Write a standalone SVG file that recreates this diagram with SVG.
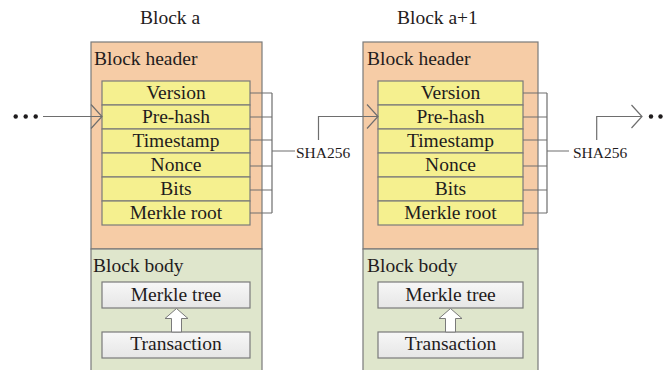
<svg xmlns="http://www.w3.org/2000/svg" width="665" height="370" viewBox="0 0 665 370" font-family="'Liberation Serif', 'Times New Roman', 'DejaVu Serif', serif">
  <style>
    .title, .lbl, .fld, .hash { font-family: "Liberation Serif", "Times New Roman", "DejaVu Serif", serif; fill: #1f1c1d; }
    .title { font-size: 19.5px; }
    .lbl { font-size: 19.5px; }
    .fld { font-size: 19.5px; text-anchor: middle; }
    .hash { font-size: 15.5px; }
    .hdr { fill: #f6cca6; stroke: #7a7a7a; stroke-width: 1.2; }
    .body { fill: #dfe6cc; stroke: #7a7a7a; stroke-width: 1.2; }
    .field { fill: #f5f08f; stroke: #7a7a7a; stroke-width: 1.2; }
    .gbox { fill: url(#gray); stroke: #7a7a7a; stroke-width: 1.2; }
    .wire { fill: none; stroke: #6e6e6e; stroke-width: 1.2; }
    .dot { fill: #1f1c1d; }
  </style>
  <defs>
    <linearGradient id="gray" x1="0" y1="0" x2="0" y2="1">
      <stop offset="0" stop-color="#f7f7f7"/>
      <stop offset="1" stop-color="#e6e6e6"/>
    </linearGradient>
  </defs>

  <!-- Block a -->
  <g id="block-a">
    <text class="title" x="140" y="24">Block a</text>
    <rect class="hdr" x="91" y="42" width="171" height="207"/>
    <rect class="body" x="91" y="249" width="171" height="125"/>
    <text class="lbl" x="94" y="65">Block header</text>
    <rect class="field" x="102" y="81" width="148" height="24"/>
    <rect class="field" x="102" y="105" width="148" height="24"/>
    <rect class="field" x="102" y="129" width="148" height="24"/>
    <rect class="field" x="102" y="153" width="148" height="24"/>
    <rect class="field" x="102" y="177" width="148" height="24"/>
    <rect class="field" x="102" y="201" width="148" height="24"/>
    <text class="fld" x="176" y="99">Version</text>
    <text class="fld" x="176" y="123">Pre-hash</text>
    <text class="fld" x="176" y="147">Timestamp</text>
    <text class="fld" x="176" y="171">Nonce</text>
    <text class="fld" x="176" y="195">Bits</text>
    <text class="fld" x="176" y="219">Merkle root</text>
    <text class="lbl" x="93" y="272">Block body</text>
    <rect class="gbox" x="102" y="282" width="148" height="26"/>
    <text class="fld" x="176" y="301">Merkle tree</text>
    <rect class="gbox" x="102" y="332" width="148" height="26"/>
    <text class="fld" x="176" y="350">Transaction</text>
    <path d="M176.5,308.5 L188,318.5 L181.5,318.5 L181.5,332 L171.5,332 L171.5,318.5 L165,318.5 Z" fill="#ffffff" stroke="#7a7a7a" stroke-width="1"/>
  </g>

  <!-- Block a+1 -->
  <g id="block-a1">
    <text class="title" x="397" y="24">Block a+1</text>
    <rect class="hdr" x="363" y="42" width="175" height="207"/>
    <rect class="body" x="363" y="249" width="175" height="125"/>
    <text class="lbl" x="367" y="65">Block header</text>
    <rect class="field" x="378" y="81" width="145" height="24"/>
    <rect class="field" x="378" y="105" width="145" height="24"/>
    <rect class="field" x="378" y="129" width="145" height="24"/>
    <rect class="field" x="378" y="153" width="145" height="24"/>
    <rect class="field" x="378" y="177" width="145" height="24"/>
    <rect class="field" x="378" y="201" width="145" height="24"/>
    <text class="fld" x="450.5" y="99">Version</text>
    <text class="fld" x="450.5" y="123">Pre-hash</text>
    <text class="fld" x="450.5" y="147">Timestamp</text>
    <text class="fld" x="450.5" y="171">Nonce</text>
    <text class="fld" x="450.5" y="195">Bits</text>
    <text class="fld" x="450.5" y="219">Merkle root</text>
    <text class="lbl" x="367" y="272">Block body</text>
    <rect class="gbox" x="378" y="282" width="145" height="26"/>
    <text class="fld" x="450.5" y="301">Merkle tree</text>
    <rect class="gbox" x="378" y="332" width="145" height="26"/>
    <text class="fld" x="450.5" y="350">Transaction</text>
    <path d="M450.5,308.5 L462,318.5 L455.5,318.5 L455.5,332 L445.5,332 L445.5,318.5 L439,318.5 Z" fill="#ffffff" stroke="#7a7a7a" stroke-width="1"/>
  </g>

  <!-- hash labels -->
  <g id="sha-a"><text class="hash" x="296" y="158">SHA256</text></g>
  <g id="sha-a1"><text class="hash" x="573" y="158">SHA256</text></g>

  <!-- connectors -->
  <g id="connectors">
    <!-- incoming chain -->
    <circle class="dot" cx="15.7" cy="116.5" r="2.2"/>
    <circle class="dot" cx="25.7" cy="116.5" r="2.2"/>
    <circle class="dot" cx="35.7" cy="116.5" r="2.2"/>
    <path class="wire" d="M43,116.5 H102 M91,104.5 L102,116.5 L91,128.5"/>
    <!-- header fields of block a into SHA256 -->
    <path class="wire" d="M250,93 H272 M250,117 H272 M250,140 H272 M250,166 H272 M250,190 H272 M250,213 H272 M272,93 V213 M272,151 H295"/>
    <!-- hash of block a into Pre-hash of block a+1 -->
    <path class="wire" d="M318.5,140 V116.5 H378 M367,104.5 L378,116.5 L367,128.5"/>
    <!-- header fields of block a+1 into SHA256 -->
    <path class="wire" d="M523,93 H547 M523,117 H547 M523,140 H547 M523,166 H547 M523,190 H547 M523,213 H547 M547,93 V213 M547,151 H569"/>
    <!-- outgoing chain -->
    <path class="wire" d="M596.7,140 V116.5 H642 M631.5,105 L642,116.5 L631.5,128"/>
    <circle class="dot" cx="651" cy="116.5" r="2.2"/>
    <circle class="dot" cx="660.5" cy="116.5" r="2.2"/>
  </g>
</svg>
